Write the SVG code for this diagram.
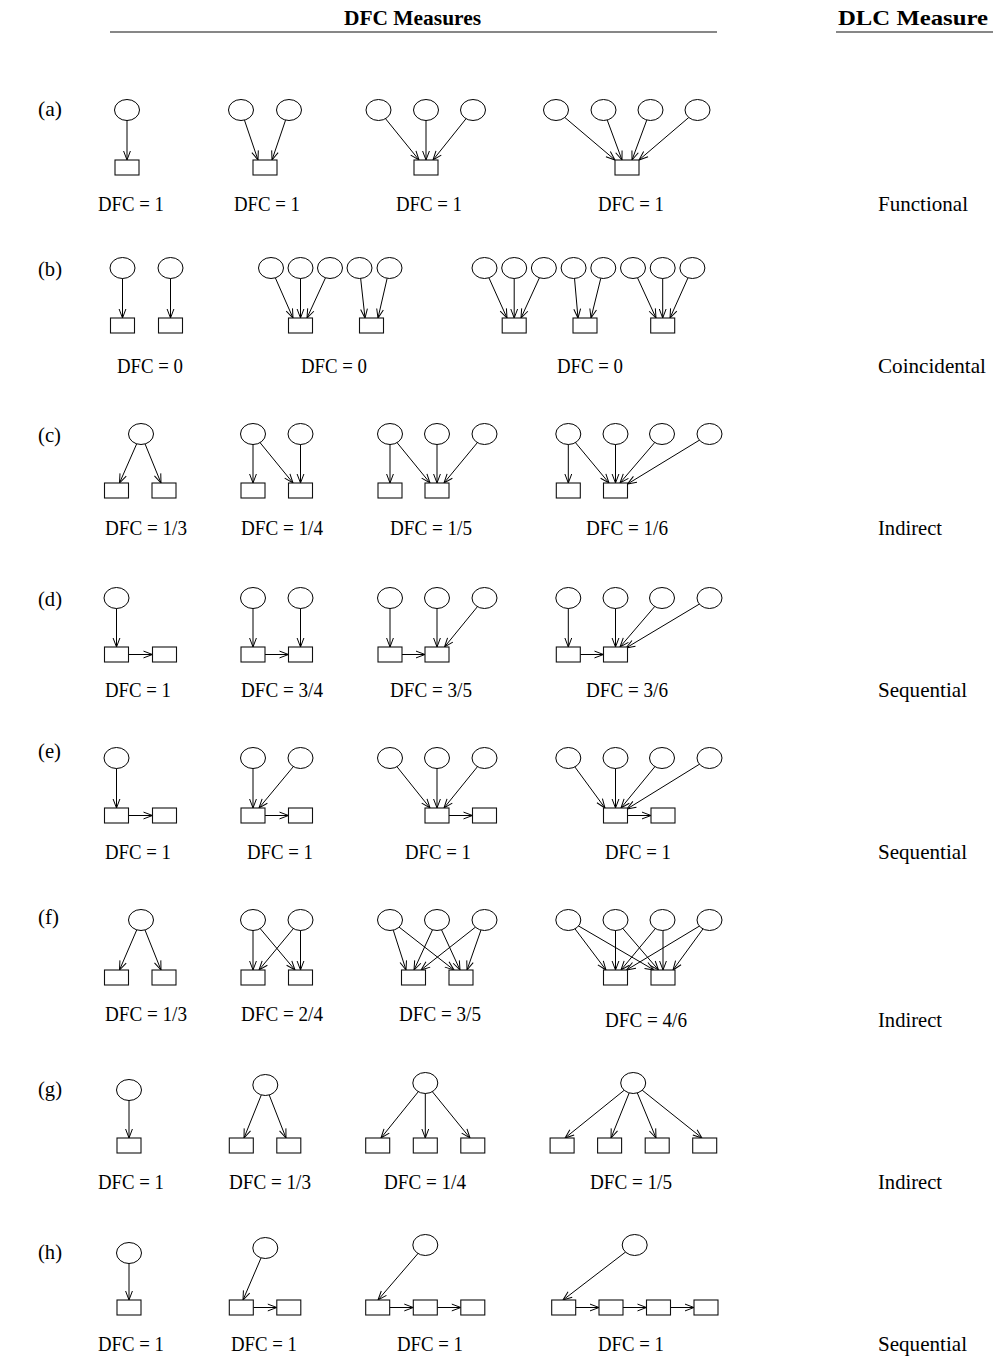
<svg xmlns="http://www.w3.org/2000/svg" width="993" height="1357" viewBox="0 0 993 1357">
<style>
.n{fill:#fff;stroke:#000;stroke-width:1}
.b{fill:#fff;stroke:#111;stroke-width:1.1}
.e{fill:none;stroke:#000;stroke-width:1;marker-end:url(#ah)}
.t{font-family:"Liberation Serif","Times New Roman",serif;font-size:22px;fill:#000}
.h{font-weight:bold}
.rule{stroke:#111;stroke-width:1.2}
</style>
<defs>
<marker id="ah" markerUnits="userSpaceOnUse" viewBox="-11 -5 12 10" markerWidth="12" markerHeight="10" refX="0" refY="0" orient="auto" overflow="visible">
<path d="M-9,-3.4 L0,0 L-9,3.4" fill="none" stroke="#000" stroke-width="1"/>
</marker>
</defs>
<rect width="993" height="1357" fill="#fff"/>

<!-- column headings -->
<g id="headings">
<text class="t h" x="344" y="25" textLength="137" lengthAdjust="spacingAndGlyphs">DFC Measures</text>
<text class="t h" x="838" y="25" textLength="150" lengthAdjust="spacingAndGlyphs">DLC Measure</text>
<path class="rule" d="M110,32 H717 M836,32 H993"/>
</g>

<!-- row tags -->
<g id="row-tags" class="t">
<text x="38" y="116" textLength="24" lengthAdjust="spacingAndGlyphs">(a)</text>
<text x="38" y="276" textLength="24" lengthAdjust="spacingAndGlyphs">(b)</text>
<text x="38" y="442" textLength="23" lengthAdjust="spacingAndGlyphs">(c)</text>
<text x="38" y="606" textLength="24" lengthAdjust="spacingAndGlyphs">(d)</text>
<text x="38" y="758" textLength="23" lengthAdjust="spacingAndGlyphs">(e)</text>
<text x="38" y="924" textLength="21" lengthAdjust="spacingAndGlyphs">(f)</text>
<text x="38" y="1096" textLength="24" lengthAdjust="spacingAndGlyphs">(g)</text>
<text x="38" y="1259" textLength="24" lengthAdjust="spacingAndGlyphs">(h)</text>
</g>

<!-- DLC classification per row -->
<g id="dlc-labels" class="t">
<text x="878" y="211" textLength="90" lengthAdjust="spacingAndGlyphs">Functional</text>
<text x="878" y="373" textLength="108" lengthAdjust="spacingAndGlyphs">Coincidental</text>
<text x="878" y="535" textLength="64" lengthAdjust="spacingAndGlyphs">Indirect</text>
<text x="878" y="697" textLength="89" lengthAdjust="spacingAndGlyphs">Sequential</text>
<text x="878" y="859" textLength="89" lengthAdjust="spacingAndGlyphs">Sequential</text>
<text x="878" y="1027" textLength="64" lengthAdjust="spacingAndGlyphs">Indirect</text>
<text x="878" y="1189" textLength="64" lengthAdjust="spacingAndGlyphs">Indirect</text>
<text x="878" y="1351" textLength="89" lengthAdjust="spacingAndGlyphs">Sequential</text>
</g>

<!-- DFC values under each graph -->
<g id="dfc-labels" class="t">
<text x="98" y="211" textLength="66" lengthAdjust="spacingAndGlyphs">DFC = 1</text>
<text x="234" y="211" textLength="66" lengthAdjust="spacingAndGlyphs">DFC = 1</text>
<text x="396" y="211" textLength="66" lengthAdjust="spacingAndGlyphs">DFC = 1</text>
<text x="598" y="211" textLength="66" lengthAdjust="spacingAndGlyphs">DFC = 1</text>
<text x="117" y="373" textLength="66" lengthAdjust="spacingAndGlyphs">DFC = 0</text>
<text x="301" y="373" textLength="66" lengthAdjust="spacingAndGlyphs">DFC = 0</text>
<text x="557" y="373" textLength="66" lengthAdjust="spacingAndGlyphs">DFC = 0</text>
<text x="105" y="535" textLength="82" lengthAdjust="spacingAndGlyphs">DFC = 1/3</text>
<text x="241" y="535" textLength="82" lengthAdjust="spacingAndGlyphs">DFC = 1/4</text>
<text x="390" y="535" textLength="82" lengthAdjust="spacingAndGlyphs">DFC = 1/5</text>
<text x="586" y="535" textLength="82" lengthAdjust="spacingAndGlyphs">DFC = 1/6</text>
<text x="105" y="697" textLength="66" lengthAdjust="spacingAndGlyphs">DFC = 1</text>
<text x="241" y="697" textLength="82" lengthAdjust="spacingAndGlyphs">DFC = 3/4</text>
<text x="390" y="697" textLength="82" lengthAdjust="spacingAndGlyphs">DFC = 3/5</text>
<text x="586" y="697" textLength="82" lengthAdjust="spacingAndGlyphs">DFC = 3/6</text>
<text x="105" y="859" textLength="66" lengthAdjust="spacingAndGlyphs">DFC = 1</text>
<text x="247" y="859" textLength="66" lengthAdjust="spacingAndGlyphs">DFC = 1</text>
<text x="405" y="859" textLength="66" lengthAdjust="spacingAndGlyphs">DFC = 1</text>
<text x="605" y="859" textLength="66" lengthAdjust="spacingAndGlyphs">DFC = 1</text>
<text x="105" y="1021" textLength="82" lengthAdjust="spacingAndGlyphs">DFC = 1/3</text>
<text x="241" y="1021" textLength="82" lengthAdjust="spacingAndGlyphs">DFC = 2/4</text>
<text x="399" y="1021" textLength="82" lengthAdjust="spacingAndGlyphs">DFC = 3/5</text>
<text x="605" y="1027" textLength="82" lengthAdjust="spacingAndGlyphs">DFC = 4/6</text>
<text x="98" y="1189" textLength="66" lengthAdjust="spacingAndGlyphs">DFC = 1</text>
<text x="229" y="1189" textLength="82" lengthAdjust="spacingAndGlyphs">DFC = 1/3</text>
<text x="384" y="1189" textLength="82" lengthAdjust="spacingAndGlyphs">DFC = 1/4</text>
<text x="590" y="1189" textLength="82" lengthAdjust="spacingAndGlyphs">DFC = 1/5</text>
<text x="98" y="1351" textLength="66" lengthAdjust="spacingAndGlyphs">DFC = 1</text>
<text x="231" y="1351" textLength="66" lengthAdjust="spacingAndGlyphs">DFC = 1</text>
<text x="397" y="1351" textLength="66" lengthAdjust="spacingAndGlyphs">DFC = 1</text>
<text x="598" y="1351" textLength="66" lengthAdjust="spacingAndGlyphs">DFC = 1</text>
</g>

<!-- connectors: drawn from node centres, nodes are painted over them -->
<g id="connectors">
<!-- row a -->
<path class="e" d="M127,110 L127,160"/>
<path class="e" d="M241,110 L258,160"/>
<path class="e" d="M289,110 L272,160"/>
<path class="e" d="M378.5,110 L419,160"/>
<path class="e" d="M426,110 L426,160"/>
<path class="e" d="M473,110 L433,160"/>
<path class="e" d="M556,110 L615,160"/>
<path class="e" d="M603.5,110 L622,160"/>
<path class="e" d="M650.5,110 L632,160"/>
<path class="e" d="M697.5,110 L639,160"/>
<!-- row b -->
<path class="e" d="M122.5,268 L122.5,318"/>
<path class="e" d="M170.5,268 L170.5,318"/>
<path class="e" d="M271,268 L293,318"/>
<path class="e" d="M300.5,268 L300.5,318"/>
<path class="e" d="M330,268 L307,318"/>
<path class="e" d="M359.5,268 L365,318"/>
<path class="e" d="M389.5,268 L378,318"/>
<path class="e" d="M484.5,268 L507,318"/>
<path class="e" d="M514.2,268 L514.2,318"/>
<path class="e" d="M543.9,268 L521,318"/>
<path class="e" d="M573.6,268 L578,318"/>
<path class="e" d="M603.3,268 L591,318"/>
<path class="e" d="M633,268 L656,318"/>
<path class="e" d="M662.7,268 L662.7,318"/>
<path class="e" d="M692.4,268 L670,318"/>
<!-- row c -->
<path class="e" d="M141,434 L119.5,483"/>
<path class="e" d="M141,434 L161,483"/>
<path class="e" d="M253,434 L253,483"/>
<path class="e" d="M253,434 L293,483"/>
<path class="e" d="M300.5,434 L300.5,483"/>
<path class="e" d="M390,434 L390,483"/>
<path class="e" d="M390,434 L430,483"/>
<path class="e" d="M437,434 L437,483"/>
<path class="e" d="M484.5,434 L444,483"/>
<path class="e" d="M568.3,434 L568.3,483"/>
<path class="e" d="M568.3,434 L609,483"/>
<path class="e" d="M615.5,434 L615.5,483"/>
<path class="e" d="M662,434 L620,483"/>
<path class="e" d="M709.5,434 L627.5,484"/>
<!-- row d -->
<path class="e" d="M116.5,598 L116.5,647"/>
<path class="e" d="M128.5,654.5 L152.5,654.5"/>
<path class="e" d="M253,598 L253,647"/>
<path class="e" d="M300.5,598 L300.5,647"/>
<path class="e" d="M265,654.5 L288.5,654.5"/>
<path class="e" d="M390,598 L390,647"/>
<path class="e" d="M437,598 L437,647"/>
<path class="e" d="M484.5,598 L444.5,647"/>
<path class="e" d="M402,654.5 L425,654.5"/>
<path class="e" d="M568.3,598 L568.3,647"/>
<path class="e" d="M615.5,598 L615.5,647"/>
<path class="e" d="M662,598 L620,647"/>
<path class="e" d="M709.5,598 L626,648"/>
<path class="e" d="M580.3,654.5 L603.5,654.5"/>
<!-- row e -->
<path class="e" d="M116.5,758 L116.5,808"/>
<path class="e" d="M128.5,815.5 L152.5,815.5"/>
<path class="e" d="M253,758 L253,808"/>
<path class="e" d="M300.5,758 L259,808"/>
<path class="e" d="M265,815.5 L288.5,815.5"/>
<path class="e" d="M390,758 L430,808"/>
<path class="e" d="M437,758 L437,808"/>
<path class="e" d="M484.5,758 L444,808"/>
<path class="e" d="M449,815.5 L472.5,815.5"/>
<path class="e" d="M568.3,758 L605,808"/>
<path class="e" d="M615.5,758 L615.5,808"/>
<path class="e" d="M662,758 L621,808"/>
<path class="e" d="M709.5,758 L627,809"/>
<path class="e" d="M627.5,815.5 L651,815.5"/>
<!-- row f -->
<path class="e" d="M141,920 L119.5,970"/>
<path class="e" d="M141,920 L161,970"/>
<path class="e" d="M253,920 L253,970"/>
<path class="e" d="M253,920 L295,970"/>
<path class="e" d="M300.5,920 L259,970"/>
<path class="e" d="M300.5,920 L300.5,970"/>
<path class="e" d="M390,920 L406,970"/>
<path class="e" d="M390,920 L454,970"/>
<path class="e" d="M437,920 L414,970"/>
<path class="e" d="M437,920 L460,970"/>
<path class="e" d="M484.5,920 L421,970"/>
<path class="e" d="M484.5,920 L467,970"/>
<path class="e" d="M568.3,920 L606,970"/>
<path class="e" d="M568.3,920 L654,970"/>
<path class="e" d="M615.5,920 L615.5,970"/>
<path class="e" d="M615.5,920 L658.5,970"/>
<path class="e" d="M662.5,920 L621,970"/>
<path class="e" d="M663,920 L663,970"/>
<path class="e" d="M709.5,920 L626.5,970"/>
<path class="e" d="M709.5,920 L673,970"/>
<!-- row g -->
<path class="e" d="M129,1090 L129,1138"/>
<path class="e" d="M265.3,1085 L244,1138"/>
<path class="e" d="M265.3,1085 L286,1138"/>
<path class="e" d="M425.3,1083 L381,1138"/>
<path class="e" d="M425.3,1083 L425.3,1138"/>
<path class="e" d="M425.3,1083 L470,1138"/>
<path class="e" d="M633.2,1083 L565,1138"/>
<path class="e" d="M633.2,1083 L611,1138"/>
<path class="e" d="M633.2,1083 L656,1138"/>
<path class="e" d="M633.2,1083 L702,1138"/>
<!-- row h -->
<path class="e" d="M129,1253 L129,1300"/>
<path class="e" d="M265.3,1248 L243,1300"/>
<path class="e" d="M253.3,1307.5 L276.8,1307.5"/>
<path class="e" d="M425.3,1245 L378,1300"/>
<path class="e" d="M389.7,1307.5 L413.3,1307.5"/>
<path class="e" d="M437.3,1307.5 L460.8,1307.5"/>
<path class="e" d="M634.7,1245 L563,1300"/>
<path class="e" d="M575.7,1307.5 L599,1307.5"/>
<path class="e" d="M623,1307.5 L646.5,1307.5"/>
<path class="e" d="M670.5,1307.5 L694,1307.5"/>
</g>

<!-- row a nodes -->
<g id="a1-n1"><ellipse class="n" cx="127" cy="110" rx="12.5" ry="10.5"/></g>
<g id="a1-b1"><rect class="b" x="115" y="160" width="24" height="15"/></g>
<g id="a2-n1"><ellipse class="n" cx="241" cy="110" rx="12.5" ry="10.5"/></g>
<g id="a2-n2"><ellipse class="n" cx="289" cy="110" rx="12.5" ry="10.5"/></g>
<g id="a2-b1"><rect class="b" x="253" y="160" width="24" height="15"/></g>
<g id="a3-n1"><ellipse class="n" cx="378.5" cy="110" rx="12.5" ry="10.5"/></g>
<g id="a3-n2"><ellipse class="n" cx="426" cy="110" rx="12.5" ry="10.5"/></g>
<g id="a3-n3"><ellipse class="n" cx="473" cy="110" rx="12.5" ry="10.5"/></g>
<g id="a3-b1"><rect class="b" x="414" y="160" width="24" height="15"/></g>
<g id="a4-n1"><ellipse class="n" cx="556" cy="110" rx="12.5" ry="10.5"/></g>
<g id="a4-n2"><ellipse class="n" cx="603.5" cy="110" rx="12.5" ry="10.5"/></g>
<g id="a4-n3"><ellipse class="n" cx="650.5" cy="110" rx="12.5" ry="10.5"/></g>
<g id="a4-n4"><ellipse class="n" cx="697.5" cy="110" rx="12.5" ry="10.5"/></g>
<g id="a4-b1"><rect class="b" x="615" y="160" width="24" height="15"/></g>

<!-- row b nodes -->
<g id="b1-n1"><ellipse class="n" cx="122.5" cy="268" rx="12.5" ry="10.5"/></g>
<g id="b1-n2"><ellipse class="n" cx="170.5" cy="268" rx="12.5" ry="10.5"/></g>
<g id="b1-b1"><rect class="b" x="110.5" y="318" width="24" height="15"/></g>
<g id="b1-b2"><rect class="b" x="158.5" y="318" width="24" height="15"/></g>
<g id="b2-n1"><ellipse class="n" cx="271" cy="268" rx="12.5" ry="10.5"/></g>
<g id="b2-n2"><ellipse class="n" cx="300.5" cy="268" rx="12.5" ry="10.5"/></g>
<g id="b2-n3"><ellipse class="n" cx="330" cy="268" rx="12.5" ry="10.5"/></g>
<g id="b2-n4"><ellipse class="n" cx="359.5" cy="268" rx="12.5" ry="10.5"/></g>
<g id="b2-n5"><ellipse class="n" cx="389.5" cy="268" rx="12.5" ry="10.5"/></g>
<g id="b2-b1"><rect class="b" x="288.5" y="318" width="24" height="15"/></g>
<g id="b2-b2"><rect class="b" x="359.5" y="318" width="24" height="15"/></g>
<g id="b3-n1"><ellipse class="n" cx="484.5" cy="268" rx="12.5" ry="10.5"/></g>
<g id="b3-n2"><ellipse class="n" cx="514.2" cy="268" rx="12.5" ry="10.5"/></g>
<g id="b3-n3"><ellipse class="n" cx="543.9" cy="268" rx="12.5" ry="10.5"/></g>
<g id="b3-n4"><ellipse class="n" cx="573.6" cy="268" rx="12.5" ry="10.5"/></g>
<g id="b3-n5"><ellipse class="n" cx="603.3" cy="268" rx="12.5" ry="10.5"/></g>
<g id="b3-n6"><ellipse class="n" cx="633" cy="268" rx="12.5" ry="10.5"/></g>
<g id="b3-n7"><ellipse class="n" cx="662.7" cy="268" rx="12.5" ry="10.5"/></g>
<g id="b3-n8"><ellipse class="n" cx="692.4" cy="268" rx="12.5" ry="10.5"/></g>
<g id="b3-b1"><rect class="b" x="502.2" y="318" width="24" height="15"/></g>
<g id="b3-b2"><rect class="b" x="573" y="318" width="24" height="15"/></g>
<g id="b3-b3"><rect class="b" x="650.7" y="318" width="24" height="15"/></g>

<!-- row c nodes -->
<g id="c1-n1"><ellipse class="n" cx="141" cy="434" rx="12.5" ry="10.5"/></g>
<g id="c1-b1"><rect class="b" x="104.5" y="483" width="24" height="15"/></g>
<g id="c1-b2"><rect class="b" x="152" y="483" width="24" height="15"/></g>
<g id="c2-n1"><ellipse class="n" cx="253" cy="434" rx="12.5" ry="10.5"/></g>
<g id="c2-n2"><ellipse class="n" cx="300.5" cy="434" rx="12.5" ry="10.5"/></g>
<g id="c2-b1"><rect class="b" x="241" y="483" width="24" height="15"/></g>
<g id="c2-b2"><rect class="b" x="288.5" y="483" width="24" height="15"/></g>
<g id="c3-n1"><ellipse class="n" cx="390" cy="434" rx="12.5" ry="10.5"/></g>
<g id="c3-n2"><ellipse class="n" cx="437" cy="434" rx="12.5" ry="10.5"/></g>
<g id="c3-n3"><ellipse class="n" cx="484.5" cy="434" rx="12.5" ry="10.5"/></g>
<g id="c3-b1"><rect class="b" x="378" y="483" width="24" height="15"/></g>
<g id="c3-b2"><rect class="b" x="425" y="483" width="24" height="15"/></g>
<g id="c4-n1"><ellipse class="n" cx="568.3" cy="434" rx="12.5" ry="10.5"/></g>
<g id="c4-n2"><ellipse class="n" cx="615.5" cy="434" rx="12.5" ry="10.5"/></g>
<g id="c4-n3"><ellipse class="n" cx="662" cy="434" rx="12.5" ry="10.5"/></g>
<g id="c4-n4"><ellipse class="n" cx="709.5" cy="434" rx="12.5" ry="10.5"/></g>
<g id="c4-b1"><rect class="b" x="556.3" y="483" width="24" height="15"/></g>
<g id="c4-b2"><rect class="b" x="603.5" y="483" width="24" height="15"/></g>

<!-- row d nodes -->
<g id="d1-n1"><ellipse class="n" cx="116.5" cy="598" rx="12.5" ry="10.5"/></g>
<g id="d1-b1"><rect class="b" x="104.5" y="647" width="24" height="15"/></g>
<g id="d1-b2"><rect class="b" x="152.5" y="647" width="24" height="15"/></g>
<g id="d2-n1"><ellipse class="n" cx="253" cy="598" rx="12.5" ry="10.5"/></g>
<g id="d2-n2"><ellipse class="n" cx="300.5" cy="598" rx="12.5" ry="10.5"/></g>
<g id="d2-b1"><rect class="b" x="241" y="647" width="24" height="15"/></g>
<g id="d2-b2"><rect class="b" x="288.5" y="647" width="24" height="15"/></g>
<g id="d3-n1"><ellipse class="n" cx="390" cy="598" rx="12.5" ry="10.5"/></g>
<g id="d3-n2"><ellipse class="n" cx="437" cy="598" rx="12.5" ry="10.5"/></g>
<g id="d3-n3"><ellipse class="n" cx="484.5" cy="598" rx="12.5" ry="10.5"/></g>
<g id="d3-b1"><rect class="b" x="378" y="647" width="24" height="15"/></g>
<g id="d3-b2"><rect class="b" x="425" y="647" width="24" height="15"/></g>
<g id="d4-n1"><ellipse class="n" cx="568.3" cy="598" rx="12.5" ry="10.5"/></g>
<g id="d4-n2"><ellipse class="n" cx="615.5" cy="598" rx="12.5" ry="10.5"/></g>
<g id="d4-n3"><ellipse class="n" cx="662" cy="598" rx="12.5" ry="10.5"/></g>
<g id="d4-n4"><ellipse class="n" cx="709.5" cy="598" rx="12.5" ry="10.5"/></g>
<g id="d4-b1"><rect class="b" x="556.3" y="647" width="24" height="15"/></g>
<g id="d4-b2"><rect class="b" x="603.5" y="647" width="24" height="15"/></g>

<!-- row e nodes -->
<g id="e1-n1"><ellipse class="n" cx="116.5" cy="758" rx="12.5" ry="10.5"/></g>
<g id="e1-b1"><rect class="b" x="104.5" y="808" width="24" height="15"/></g>
<g id="e1-b2"><rect class="b" x="152.5" y="808" width="24" height="15"/></g>
<g id="e2-n1"><ellipse class="n" cx="253" cy="758" rx="12.5" ry="10.5"/></g>
<g id="e2-n2"><ellipse class="n" cx="300.5" cy="758" rx="12.5" ry="10.5"/></g>
<g id="e2-b1"><rect class="b" x="241" y="808" width="24" height="15"/></g>
<g id="e2-b2"><rect class="b" x="288.5" y="808" width="24" height="15"/></g>
<g id="e3-n1"><ellipse class="n" cx="390" cy="758" rx="12.5" ry="10.5"/></g>
<g id="e3-n2"><ellipse class="n" cx="437" cy="758" rx="12.5" ry="10.5"/></g>
<g id="e3-n3"><ellipse class="n" cx="484.5" cy="758" rx="12.5" ry="10.5"/></g>
<g id="e3-b1"><rect class="b" x="425" y="808" width="24" height="15"/></g>
<g id="e3-b2"><rect class="b" x="472.5" y="808" width="24" height="15"/></g>
<g id="e4-n1"><ellipse class="n" cx="568.3" cy="758" rx="12.5" ry="10.5"/></g>
<g id="e4-n2"><ellipse class="n" cx="615.5" cy="758" rx="12.5" ry="10.5"/></g>
<g id="e4-n3"><ellipse class="n" cx="662" cy="758" rx="12.5" ry="10.5"/></g>
<g id="e4-n4"><ellipse class="n" cx="709.5" cy="758" rx="12.5" ry="10.5"/></g>
<g id="e4-b1"><rect class="b" x="603.5" y="808" width="24" height="15"/></g>
<g id="e4-b2"><rect class="b" x="651" y="808" width="24" height="15"/></g>

<!-- row f nodes -->
<g id="f1-n1"><ellipse class="n" cx="141" cy="920" rx="12.5" ry="10.5"/></g>
<g id="f1-b1"><rect class="b" x="104.5" y="970" width="24" height="15"/></g>
<g id="f1-b2"><rect class="b" x="152" y="970" width="24" height="15"/></g>
<g id="f2-n1"><ellipse class="n" cx="253" cy="920" rx="12.5" ry="10.5"/></g>
<g id="f2-n2"><ellipse class="n" cx="300.5" cy="920" rx="12.5" ry="10.5"/></g>
<g id="f2-b1"><rect class="b" x="241" y="970" width="24" height="15"/></g>
<g id="f2-b2"><rect class="b" x="288.5" y="970" width="24" height="15"/></g>
<g id="f3-n1"><ellipse class="n" cx="390" cy="920" rx="12.5" ry="10.5"/></g>
<g id="f3-n2"><ellipse class="n" cx="437" cy="920" rx="12.5" ry="10.5"/></g>
<g id="f3-n3"><ellipse class="n" cx="484.5" cy="920" rx="12.5" ry="10.5"/></g>
<g id="f3-b1"><rect class="b" x="401.5" y="970" width="24" height="15"/></g>
<g id="f3-b2"><rect class="b" x="449" y="970" width="24" height="15"/></g>
<g id="f4-n1"><ellipse class="n" cx="568.3" cy="920" rx="12.5" ry="10.5"/></g>
<g id="f4-n2"><ellipse class="n" cx="615.5" cy="920" rx="12.5" ry="10.5"/></g>
<g id="f4-n3"><ellipse class="n" cx="662.5" cy="920" rx="12.5" ry="10.5"/></g>
<g id="f4-n4"><ellipse class="n" cx="709.5" cy="920" rx="12.5" ry="10.5"/></g>
<g id="f4-b1"><rect class="b" x="603.5" y="970" width="24" height="15"/></g>
<g id="f4-b2"><rect class="b" x="651" y="970" width="24" height="15"/></g>

<!-- row g nodes -->
<g id="g1-n1"><ellipse class="n" cx="129" cy="1090" rx="12.5" ry="10.5"/></g>
<g id="g1-b1"><rect class="b" x="117" y="1138" width="24" height="15"/></g>
<g id="g2-n1"><ellipse class="n" cx="265.3" cy="1085" rx="12.5" ry="10.5"/></g>
<g id="g2-b1"><rect class="b" x="229.3" y="1138" width="24" height="15"/></g>
<g id="g2-b2"><rect class="b" x="276.8" y="1138" width="24" height="15"/></g>
<g id="g3-n1"><ellipse class="n" cx="425.3" cy="1083" rx="12.5" ry="10.5"/></g>
<g id="g3-b1"><rect class="b" x="365.7" y="1138" width="24" height="15"/></g>
<g id="g3-b2"><rect class="b" x="413.3" y="1138" width="24" height="15"/></g>
<g id="g3-b3"><rect class="b" x="460.8" y="1138" width="24" height="15"/></g>
<g id="g4-n1"><ellipse class="n" cx="633.2" cy="1083" rx="12.5" ry="10.5"/></g>
<g id="g4-b1"><rect class="b" x="550.1" y="1138" width="24" height="15"/></g>
<g id="g4-b2"><rect class="b" x="597.6" y="1138" width="24" height="15"/></g>
<g id="g4-b3"><rect class="b" x="645.2" y="1138" width="24" height="15"/></g>
<g id="g4-b4"><rect class="b" x="692.7" y="1138" width="24" height="15"/></g>

<!-- row h nodes -->
<g id="h1-n1"><ellipse class="n" cx="129" cy="1253" rx="12.5" ry="10.5"/></g>
<g id="h1-b1"><rect class="b" x="117" y="1300" width="24" height="15"/></g>
<g id="h2-n1"><ellipse class="n" cx="265.3" cy="1248" rx="12.5" ry="10.5"/></g>
<g id="h2-b1"><rect class="b" x="229.3" y="1300" width="24" height="15"/></g>
<g id="h2-b2"><rect class="b" x="276.8" y="1300" width="24" height="15"/></g>
<g id="h3-n1"><ellipse class="n" cx="425.3" cy="1245" rx="12.5" ry="10.5"/></g>
<g id="h3-b1"><rect class="b" x="365.7" y="1300" width="24" height="15"/></g>
<g id="h3-b2"><rect class="b" x="413.3" y="1300" width="24" height="15"/></g>
<g id="h3-b3"><rect class="b" x="460.8" y="1300" width="24" height="15"/></g>
<g id="h4-n1"><ellipse class="n" cx="634.7" cy="1245" rx="12.5" ry="10.5"/></g>
<g id="h4-b1"><rect class="b" x="551.7" y="1300" width="24" height="15"/></g>
<g id="h4-b2"><rect class="b" x="599" y="1300" width="24" height="15"/></g>
<g id="h4-b3"><rect class="b" x="646.5" y="1300" width="24" height="15"/></g>
<g id="h4-b4"><rect class="b" x="694" y="1300" width="24" height="15"/></g>
</svg>
